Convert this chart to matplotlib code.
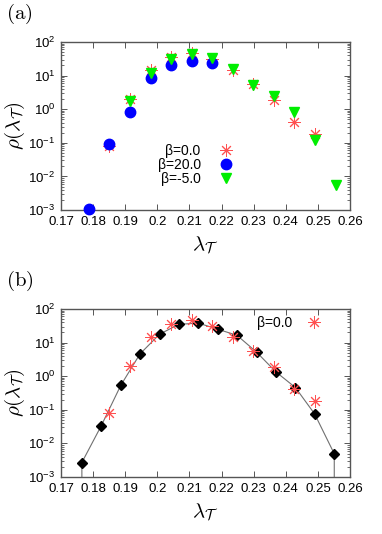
import numpy as np
import matplotlib
matplotlib.use("Agg")
import matplotlib.pyplot as plt
from matplotlib.ticker import LogLocator, NullFormatter

# ---- data ----
x_a = [0.1787, 0.1851, 0.1915, 0.1979, 0.2043, 0.2107, 0.2171,
       0.2235, 0.2299, 0.2363, 0.2427, 0.2491, 0.2555]

x_beta0 = x_a[1:12]
y_beta0 = [0.078, 1.95, 14.5, 37, 47, 32, 14.5, 5.6, 1.86, 0.42, 0.18]

x_beta20 = x_a[0:7]
y_beta20 = [0.0011, 0.09, 0.82, 8.2, 21, 28, 23.5]

x_betam5 = x_a[2:13]
y_betam5 = [1.78, 12.3, 32, 43, 34, 15.5, 5.2, 2.45, 0.82, 0.12, 0.0055]

x_fit = [0.1765, 0.1825, 0.1886, 0.1946, 0.2007, 0.2067, 0.2128,
         0.2188, 0.2248, 0.2309, 0.2369, 0.2430, 0.2490, 0.2551]
y_fit = [0.0027, 0.033, 0.53, 4.6, 17.8, 35, 38, 25, 16.5, 5.2,
         1.35, 0.46, 0.075, 0.0049]

labels_a = ["β=0.0", "β=20.0", "β=-5.0"]
xticks = [0.17, 0.18, 0.19, 0.2, 0.21, 0.22, 0.23, 0.24, 0.25, 0.26]
xticklabels = ["0.17", "0.18", "0.19", "0.2", "0.21", "0.22",
               "0.23", "0.24", "0.25", "0.26"]

plt.rcParams['font.family'] = ['Liberation Sans', 'DejaVu Sans']
plt.rcParams['mathtext.fontset'] = 'cm'

fig = plt.figure(figsize=(3.82, 5.34), dpi=100)
W, H = 382, 534

def make_ax(top_px):
    left, right, bottom = 61, 350, top_px + 168
    ax = fig.add_axes([left / W, 1 - bottom / H, (right - left) / W, 168 / H])
    ax.set_xlim(0.17, 0.26)
    ax.set_ylim(1e-3, 1e2)
    ax.set_yscale('log')
    ax.set_xticks(xticks)
    ax.set_xticklabels(xticklabels)
    ax.yaxis.set_major_locator(LogLocator(base=10, numticks=10))
    ax.yaxis.set_minor_locator(LogLocator(base=10, subs=np.arange(2, 10), numticks=20))
    ax.yaxis.set_minor_formatter(NullFormatter())
    ax.tick_params(which='both', direction='in', top=True, right=True,
                   labelsize=9.5, color='#555555', pad=4)
    ax.tick_params(which='major', length=4, width=0.7)
    ax.tick_params(which='minor', length=2, width=0.6)
    for s in ax.spines.values():
        s.set_color('#555555')
        s.set_linewidth(1.0)
    ax.set_ylabel(r'$\rho(\lambda_{\mathcal{T}})$', fontsize=15, va='center')
    ax.yaxis.set_label_coords(-0.16, 0.5)
    ax.set_xlabel(r'$\lambda_{\mathcal{T}}$', fontsize=15, va='center')
    ax.xaxis.set_label_coords(0.5, -0.21)
    return ax

star = dict(marker=(8, 2, 0), markersize=9, mew=0.7, color='#ff5050', ls='none')

# panel (a)
axa = make_ax(42)
h1, = axa.plot(x_beta0, y_beta0, label=labels_a[0], **star)
h2, = axa.plot(x_beta20, y_beta20, 'o', color='#0000ff', ms=7.5, ls='none',
               label=labels_a[1], clip_on=False, zorder=3)
h3, = axa.plot(x_betam5, y_betam5, 'v', color='#00ee00', ms=7, ls='none',
               label=labels_a[2], zorder=4)
axa.legend(handles=[h1, h2, h3], loc='center left', bbox_to_anchor=(0.31, 0.27),
           frameon=False, markerfirst=False, fontsize=10, handlelength=1.2,
           handletextpad=1.2, labelspacing=0.0, borderpad=0)
fig.text(6 / W, 1 - 14 / H, r'$\mathrm{(a)}$', fontsize=15, va='center')

# panel (b)
axb = make_ax(309)
xl = [x_fit[0]] + x_fit + [x_fit[-1]]
yl = [1e-4] + y_fit + [1e-4]
axb.plot(xl, yl, '-', color='#707070', lw=0.8, zorder=2)
axb.plot(x_fit, y_fit, 'D', color='black', ms=5.3, ls='none', zorder=3, clip_on=False)
hb, = axb.plot(x_beta0, y_beta0, label=labels_a[0], zorder=4, **star)
axb.legend(handles=[hb], loc='upper right', bbox_to_anchor=(0.93, 1.0),
           frameon=False, markerfirst=False, fontsize=10, handlelength=1.2,
           handletextpad=1.0, borderpad=0.0)
fig.text(6 / W, 1 - 281 / H, r'$\mathrm{(b)}$', fontsize=15, va='center')

fig.savefig('out.png', dpi=100)
